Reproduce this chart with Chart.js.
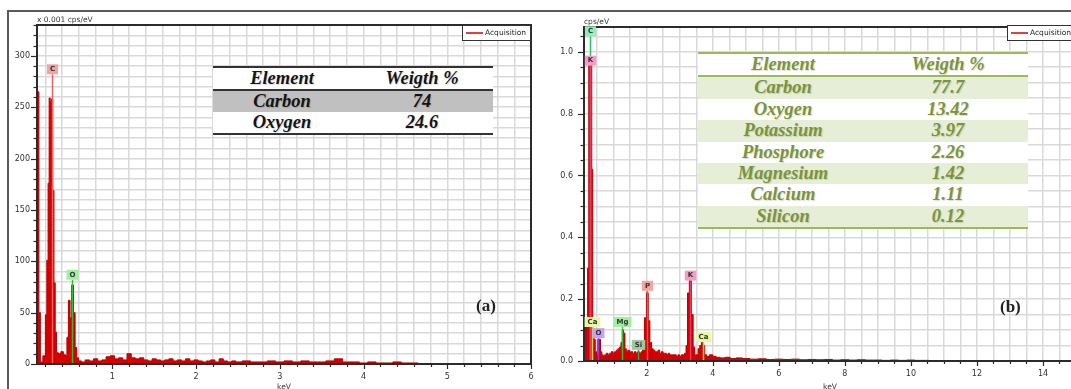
<!DOCTYPE html>
<html>
<head>
<meta charset="utf-8">
<script src="https://cdn.jsdelivr.net/npm/chart.js@4.4.1/dist/chart.umd.min.js"></script>
<style>
  html, body { margin: 0; padding: 0; background: #fff; }
  body { position: relative; width: 1071px; height: 389px; overflow: hidden; }
  canvas { position: absolute; top: 0; }
  #specA { left: 0; }
  #specB { left: 545px; }
  .frameTop { position: absolute; left: 7px; top: 10px; width: 1064px; border-top: 2px solid #5a5a5a; }
  .frameLeft { position: absolute; left: 7px; top: 10px; height: 379px; border-left: 2px solid #5a5a5a; }
  .wt { position: absolute; background: #fff; font: italic bold 18.5px "Liberation Serif", "Times New Roman", serif; }
  .wt .row { display: flex; }
  .wt span { display: block; text-align: center; }
  .wtA { left: 213px; top: 66px; width: 280px; color: #141414;
         border-top: 2px solid #333; border-bottom: 2px solid #333;
         text-shadow: 1px 1px 1px rgba(0,0,0,.15); }
  .wtA .head { height: 22px; line-height: 22px; border-bottom: 2px solid #333; }
  .wtA .row { height: 21px; line-height: 21px; }
  .wtA .alt { background: #c0c0c0; }
  .wtA span:first-child { width: 138px; }
  .wtA span:last-child { width: 142px; }
  .wtB { left: 698px; top: 52px; width: 330px; color: #7a943c;
         border-top: 2px solid #9bbb59; border-bottom: 2px solid #9bbb59;
         text-shadow: 1px 1px 1px rgba(70,80,30,.2); }
  .wtB .head { height: 22px; line-height: 22px; border-bottom: 2px solid #9bbb59; }
  .wtB .row { height: 21.4px; line-height: 21.4px; }
  .wtB .alt { background: #e6eed8; }
  .wtB span:first-child { width: 170px; }
  .wtB span:last-child { width: 160px; }
  .panel { position: absolute; font: bold 17px "Liberation Serif", "Times New Roman", serif; color: #222; }
</style>
</head>
<body>
<canvas id="specA" width="545" height="389"></canvas>
<canvas id="specB" width="545" height="389"></canvas>
<div class="frameTop"></div>
<div class="frameLeft"></div>
<div id="tableA" class="wt wtA"></div>
<div id="tableB" class="wt wtB"></div>
<div class="panel" style="left:476px;top:296px">(a)</div>
<div class="panel" style="left:1000px;top:297px">(b)</div>
<script>
// ---- spectrum (a): energy in keV, counts in x 0.001 cps/eV
const energyA = [
  0.10, 0.115, 0.13, 0.15, 0.19, 0.21, 0.225, 0.24, 0.25, 0.265,
  0.28, 0.295, 0.31, 0.325, 0.34, 0.37, 0.40, 0.43, 0.45, 0.465,
  0.485, 0.505, 0.525, 0.545, 0.565, 0.585, 0.61, 0.65, 0.70, 0.75,
  0.80, 0.85, 0.90, 0.95, 1.00, 1.05, 1.10, 1.15, 1.20, 1.25,
  1.30, 1.35, 1.40, 1.45, 1.50, 1.55, 1.60, 1.65, 1.70, 1.75,
  1.80, 1.85, 1.90, 1.95, 2.00, 2.05, 2.10, 2.15, 2.20, 2.25,
  2.30, 2.35, 2.40, 2.45, 2.50, 2.60, 2.70, 2.80, 2.90, 3.00,
  3.10, 3.20, 3.30, 3.40, 3.50, 3.60, 3.70, 3.80, 3.90, 4.00,
  4.10, 4.20, 4.30, 4.40, 4.50, 4.60, 4.70
];
const countsA = [
  230, 265, 50, 2, 8, 48, 101, 176, 259, 255,
  258, 169, 79, 31, 11, 10, 12, 9, 8, 26,
  62, 45, 77, 50, 16, 6, 3, 2, 4, 3,
  5, 3, 4, 7, 8, 5, 6, 4, 10, 6,
  5, 6, 4, 3, 5, 4, 3, 4, 5, 3,
  4, 3, 5, 3, 4, 3, 2, 3, 4, 2,
  5, 3, 2, 3, 2, 3, 2, 2, 3, 2,
  3, 2, 3, 2, 2, 3, 5, 2, 2, 1,
  2, 1, 1, 2, 1, 1, 0
];
const xLabelsA = [1, 2, 3, 4, 5, 6];
const yLabelsA = [0, 50, 100, 150, 200, 250, 300];
const markerNamesA = ['C', 'O'];
const markerEnergyA = [0.28, 0.52];
const markerLevelA = [282, 82];

// ---- spectrum (b): energy in keV, counts in cps/eV
const energyB = [
  0.10, 0.13, 0.16, 0.19, 0.23, 0.26, 0.29, 0.32, 0.35, 0.38,
  0.42, 0.46, 0.50, 0.54, 0.58, 0.62, 0.66, 0.70, 0.75, 0.80,
  0.85, 0.90, 0.95, 1.00, 1.05, 1.10, 1.15, 1.20, 1.24, 1.28,
  1.32, 1.36, 1.40, 1.45, 1.50, 1.55, 1.60, 1.65, 1.70, 1.75,
  1.80, 1.85, 1.90, 1.96, 2.02, 2.07, 2.12, 2.17, 2.22, 2.27,
  2.32, 2.37, 2.42, 2.47, 2.52, 2.57, 2.62, 2.67, 2.72, 2.77,
  2.82, 2.87, 2.92, 2.97, 3.02, 3.07, 3.12, 3.17, 3.21, 3.26,
  3.32, 3.38, 3.43, 3.48, 3.53, 3.58, 3.63, 3.68, 3.73, 3.78,
  3.85, 3.95, 4.05, 4.15, 4.30, 4.45, 4.60, 4.80, 5.00, 5.25,
  5.50, 5.75, 6.00, 6.25, 6.50, 6.75, 7.00, 7.25, 7.50, 7.75,
  8.00, 8.25, 8.50, 8.75, 9.00, 9.25, 9.50, 9.75, 10.00, 10.25,
  10.50, 10.60
];
const countsB = [
  0.11, 0.09, 0.11, 0.02, 0.30, 0.96, 0.96, 0.96, 0.62, 0.10,
  0.07, 0.03, 0.02, 0.07, 0.07, 0.03, 0.02, 0.015, 0.02, 0.025,
  0.02, 0.025, 0.03, 0.025, 0.03, 0.035, 0.04, 0.045, 0.06, 0.10,
  0.09, 0.04, 0.03, 0.035, 0.03, 0.03, 0.025, 0.03, 0.025, 0.03,
  0.025, 0.03, 0.05, 0.14, 0.22, 0.13, 0.06, 0.04, 0.035, 0.03,
  0.03, 0.035, 0.025, 0.03, 0.025, 0.025, 0.02, 0.025, 0.02, 0.02,
  0.02, 0.02, 0.015, 0.02, 0.015, 0.02, 0.02, 0.025, 0.05, 0.22,
  0.26, 0.15, 0.045, 0.02, 0.02, 0.04, 0.05, 0.06, 0.05, 0.02,
  0.015, 0.02, 0.015, 0.012, 0.01, 0.012, 0.008, 0.01, 0.008, 0.006,
  0.007, 0.005, 0.006, 0.005, 0.006, 0.004, 0.005, 0.004, 0.005, 0.003,
  0.004, 0.003, 0.004, 0.003, 0.003, 0.002, 0.003, 0.002, 0.003, 0.002,
  0.002, 0
];
const xLabelsB = [2, 4, 6, 8, 10, 12, 14];
const yLabelsB = [0, 0.2, 0.4, 0.6, 0.8, 1.0];
const markerNamesB = ['C', 'K', 'Ca', 'O', 'Mg', 'Si', 'P', 'K', 'Ca'];
const markerEnergyB = [0.27, 0.27, 0.34, 0.52, 1.26, 1.74, 2.01, 3.31, 3.69];
const markerLevelB = [1.05, 0.955, 0.11, 0.074, 0.11, 0.036, 0.227, 0.26, 0.061];

// ---- weight tables
const tableHead = ['Element', 'Weigth %'];
const elementsA = ['Carbon', 'Oxygen'];
const weightsA = ['74', '24.6'];
const elementsB = ['Carbon', 'Oxygen', 'Potassium', 'Phosphore', 'Magnesium', 'Calcium', 'Silicon'];
const weightsB = ['77.7', '13.42', '3.97', '2.26', '1.42', '1.11', '0.12'];

function fillTable(id, names, weights) {
  const el = document.getElementById(id);
  let html = '<div class="row head"><span>' + tableHead[0] + '</span><span>' + tableHead[1] + '</span></div>';
  names.forEach((n, i) => {
    html += '<div class="row' + (i % 2 === 0 ? ' alt' : '') + '"><span>' + n + '</span><span>' + weights[i] + '</span></div>';
  });
  el.innerHTML = html;
}
fillTable('tableA', elementsA, weightsA);
fillTable('tableB', elementsB, weightsB);

// tag colours per element line (fill, line)
const tagColors = {
  A: { C: ['#f4a3a3', '#f06262'], O: ['#9ef29e', '#2fc22f'] },
  B: {
    C: ['#8ff0b6', '#2fbf62'], K: ['#f59cc6', '#e63c62'], Ca: ['#e8f7a2', '#c3d848'],
    O: ['#cc9ef2', '#9a32d6'], Mg: ['#9ef09e', '#2fbe2f'], Si: ['#a0c8a0', '#3c9e3c'],
    P: ['#f4a2a2', '#e25252']
  }
};

const onList = (v, list) => list.some(t => Math.abs(t - v) < 1e-6);

function stepTicks(step) {
  return scale => {
    const out = [];
    for (let k = Math.ceil(scale.min / step - 1e-9); k * step <= scale.max + 1e-9; k++) {
      out.push({ value: +(k * step).toFixed(4) });
    }
    scale.ticks = out;
  };
}

function decor(s) {
  return {
    id: 'decor',
    afterDatasetsDraw(chart) {
      const { ctx, chartArea: a, scales: { x, y } } = chart;
      ctx.save();
      ctx.lineWidth = 1.5;
      s.names.forEach((n, i) => {
        const px = Math.round(x.getPixelForValue(s.energy[i])) + 0.5;
        ctx.strokeStyle = s.colors[n][1];
        ctx.beginPath();
        ctx.moveTo(px, a.bottom);
        ctx.lineTo(px, y.getPixelForValue(s.level[i]));
        ctx.stroke();
      });
      ctx.restore();
    },
    afterDraw(chart) {
      const { ctx, chartArea: a, scales: { x, y } } = chart;
      ctx.save();
      // plot frame
      ctx.strokeStyle = '#2b2b2b';
      ctx.lineWidth = 2;
      ctx.strokeRect(a.left, a.top, a.right - a.left, a.bottom - a.top);

      // major / minor tick marks
      ctx.lineWidth = 1.2;
      x.ticks.forEach(t => {
        const px = Math.round(x.getPixelForValue(t.value)) + 0.5;
        const len = onList(t.value, s.xLabels) ? 5 : 3;
        ctx.beginPath(); ctx.moveTo(px, a.bottom); ctx.lineTo(px, a.bottom + len); ctx.stroke();
      });
      y.ticks.forEach(t => {
        const py = Math.round(y.getPixelForValue(t.value)) + 0.5;
        const len = onList(t.value, s.yLabels) ? 6 : 3.5;
        ctx.beginPath(); ctx.moveTo(a.left, py); ctx.lineTo(a.left - len, py); ctx.stroke();
      });

      // element tags
      ctx.font = 'bold 7px "DejaVu Sans"';
      ctx.textAlign = 'center';
      ctx.textBaseline = 'middle';
      s.names.forEach((n, i) => {
        const px = Math.round(x.getPixelForValue(s.energy[i])) + 0.5;
        const bottom = y.getPixelForValue(s.level[i]);
        const w = Math.max(11, ctx.measureText(n).width + 6);
        ctx.fillStyle = s.colors[n][0];
        ctx.fillRect(px - w / 2, bottom - 10, w, 10);
        ctx.fillStyle = '#333';
        ctx.fillText(n, px, bottom - 5);
      });

      // axis titles
      ctx.fillStyle = '#333';
      ctx.font = '7.5px "DejaVu Sans"';
      ctx.textAlign = 'left';
      ctx.textBaseline = 'alphabetic';
      ctx.fillText(s.yTitle, a.left, a.top - 3);
      ctx.textAlign = 'center';
      ctx.textBaseline = 'top';
      ctx.fillText('keV', (a.left + a.right) / 2, 383);

      // legend box
      const lx = a.right - 69, ly = a.top - s.legendLift;
      ctx.fillStyle = '#fff';
      ctx.fillRect(lx, ly, 69, 16);
      ctx.strokeStyle = '#333';
      ctx.lineWidth = 1;
      ctx.strokeRect(lx + 0.5, ly + 0.5, 68, 15);
      ctx.strokeStyle = '#d40000';
      ctx.lineWidth = 1.5;
      ctx.beginPath(); ctx.moveTo(lx + 4, ly + 8); ctx.lineTo(lx + 21, ly + 8); ctx.stroke();
      ctx.fillStyle = '#222';
      ctx.font = '7.5px "DejaVu Sans"';
      ctx.textAlign = 'left';
      ctx.textBaseline = 'middle';
      ctx.fillText(chart.data.datasets[0].label, lx + 23, ly + 8.5);
      ctx.restore();
    }
  };
}

function spectrumChart(id, p) {
  return new Chart(document.getElementById(id), {
    type: 'line',
    data: {
      datasets: [{
        label: 'Acquisition',
        data: p.energy.map((e, i) => ({ x: e, y: p.counts[i] })),
        stepped: 'middle',
        fill: 'origin',
        borderColor: '#b40000',
        backgroundColor: '#d40000',
        borderWidth: 1,
        pointRadius: 0
      }]
    },
    options: {
      responsive: false,
      animation: false,
      layout: { padding: { left: 0, top: p.top, right: p.right, bottom: 0 } },
      plugins: { legend: { display: false }, tooltip: { enabled: false } },
      scales: {
        x: {
          type: 'linear',
          min: p.xMin,
          max: p.xMax,
          afterBuildTicks: stepTicks(p.xStep),
          afterFit: s => { s.height = p.xHeight; },
          grid: { color: '#d9d9d9', lineWidth: 1.5, drawTicks: false },
          border: { color: '#2b2b2b', width: 2 },
          ticks: {
            autoSkip: false, maxRotation: 0, padding: 8, color: '#333',
            font: { family: 'DejaVu Sans', size: 8 },
            callback: v => onList(v, p.xLabels) ? String(v) : ''
          }
        },
        y: {
          min: 0,
          max: p.yMax,
          afterBuildTicks: stepTicks(p.yStep),
          afterFit: s => { s.width = p.yWidth; },
          grid: { color: '#d9d9d9', lineWidth: 1.5, drawTicks: false },
          border: { color: '#2b2b2b', width: 2 },
          ticks: {
            autoSkip: false, padding: p.yPad, color: '#333',
            font: { family: 'DejaVu Sans', size: 8 },
            callback: v => onList(v, p.yLabels) ? p.yFmt(v) : ''
          }
        }
      }
    },
    plugins: [decor({
      names: p.names, energy: p.mEnergy, level: p.mLevel, colors: p.colors,
      xLabels: p.xLabels, yLabels: p.yLabels, yTitle: p.yTitle, legendLift: p.legendLift
    })]
  });
}

spectrumChart('specA', {
  energy: energyA, counts: countsA,
  xMin: 0.1, xMax: 6, xStep: 0.2, xLabels: xLabelsA,
  yMax: 330, yStep: 10, yLabels: yLabelsA, yFmt: v => String(v),
  top: 25, right: 14, xHeight: 25, yWidth: 37, yPad: 7,
  names: markerNamesA, mEnergy: markerEnergyA, mLevel: markerLevelA, colors: tagColors.A,
  yTitle: 'x 0.001 cps/eV', legendLift: 0
});

spectrumChart('specB', {
  energy: energyB, counts: countsB,
  xMin: 0.1, xMax: 15, xStep: 0.5, xLabels: xLabelsB,
  yMax: 1.08, yStep: 0.05, yLabels: yLabelsB, yFmt: v => v.toFixed(1),
  top: 27, right: 14, xHeight: 28, yWidth: 39, yPad: 11,
  names: markerNamesB, mEnergy: markerEnergyB, mLevel: markerLevelB, colors: tagColors.B,
  yTitle: 'cps/eV', legendLift: 2
});
</script>
</body>
</html>
